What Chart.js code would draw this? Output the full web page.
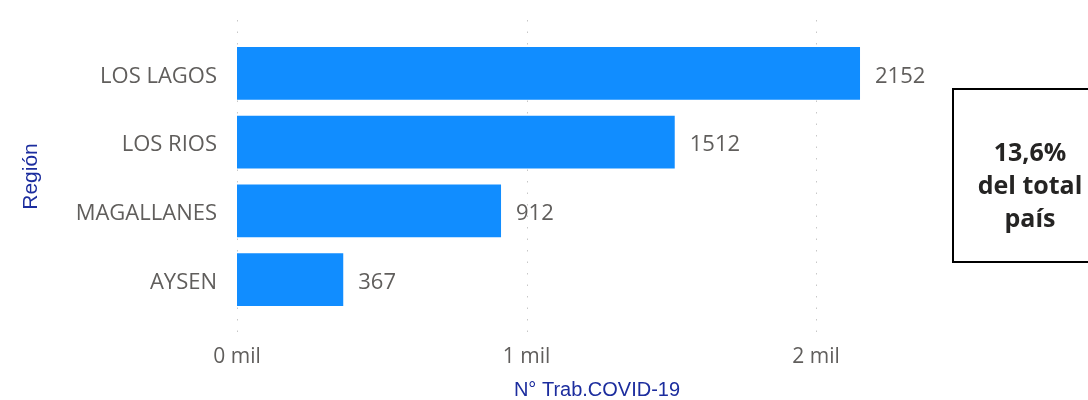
<!DOCTYPE html>
<html><head><meta charset="utf-8">
<script src="https://cdn.jsdelivr.net/npm/chart.js@4"></script>
<style>
html,body{margin:0;padding:0;background:#fff;}
#wrap{position:relative;width:1088px;height:400px;overflow:hidden;}
#c{position:absolute;left:0;top:0;}
#box{position:absolute;left:952px;top:88px;width:150px;height:171px;border:2px solid #000;box-sizing:content-box;}
#boxtxt{position:absolute;left:960px;width:140px;top:135px;text-align:center;font-family:"Open Sans",sans-serif;font-weight:700;font-size:25px;line-height:33px;color:#252423;}
</style></head>
<body><div id="wrap"><canvas id="c" width="1088" height="400"></canvas>
<div id="box"></div>
<div id="boxtxt">13,6%<br>del total<br>país</div></div>
<script>
const categories = ["LOS LAGOS","LOS RIOS","MAGALLANES","AYSEN"];
const values = [2152,1512,912,367];
const xTickValues = [0,1000,2000];
const xTickLabels = ["0 mil","1 mil","2 mil"];
const yTitle = "Región";
const xTitle = "N° Trab.COVID-19";

const gridPlugin = {
  id:'dotgrid',
  beforeDatasetsDraw(chart){
    const {ctx, chartArea, scales:{x}} = chart;
    ctx.save();
    ctx.strokeStyle = '#c8c8c8';
    ctx.lineWidth = 1;
    ctx.setLineDash([1.5,10]);
    xTickValues.forEach(v=>{
      const px = Math.round(x.getPixelForValue(v))+0.5;
      ctx.beginPath();
      ctx.moveTo(px, chartArea.top-19);
      ctx.lineTo(px, chartArea.bottom+22);
      ctx.stroke();
    });
    ctx.restore();
  }
};
const labelPlugin = {
  id:'vlabels',
  afterDatasetsDraw(chart){
    const {ctx} = chart;
    const meta = chart.getDatasetMeta(0);
    ctx.save();
    ctx.font = '22px "Open Sans"';
    ctx.fillStyle = '#605e5c';
    ctx.textBaseline = 'middle';
    ctx.textAlign = 'left';
    meta.data.forEach((bar,i)=>{
      ctx.fillText(String(values[i]), bar.x+15, bar.y+3);
    });
    ctx.restore();
  }
};

new Chart(document.getElementById('c'), {
  type:'bar',
  data:{labels:categories, datasets:[{data:values, backgroundColor:'#118DFF', barPercentage:0.77, categoryPercentage:1}]},
  options:{
    indexAxis:'y', responsive:false, animation:false,
    layout:{padding:{top:39,right:131,left:0,bottom:0}},
    plugins:{legend:{display:false}, tooltip:{enabled:false}},
    scales:{
      x:{
        min:0, max:2487,
        afterBuildTicks(s){ s.ticks = xTickValues.map(v=>({value:v})); },
        afterFit(s){ s.height = 86; },
        grid:{display:false, drawTicks:false},
        border:{display:false},
        ticks:{padding:30, color:'#605e5c', font:{family:'"Open Sans"', size:21},
          callback:(v)=>xTickLabels[xTickValues.indexOf(v)] ?? ''},
        title:{display:true, text:xTitle, color:'#1c2d9e', font:{family:'"Liberation Sans"', size:20}, padding:{top:0,bottom:-2}}
      },
      y:{
        afterFit(s){ s.width = 237; },
        grid:{display:false, drawTicks:false},
        border:{display:false},
        ticks:{padding:20, labelOffset:3, color:'#605e5c', font:{family:'"Open Sans"', size:22}},
        title:{display:true, text:yTitle, color:'#1c2d9e', font:{family:'"Liberation Sans"', size:21}, padding:{top:19,bottom:0}}
      }
    }
  },
  plugins:[gridPlugin,labelPlugin]
});
</script></body></html>
